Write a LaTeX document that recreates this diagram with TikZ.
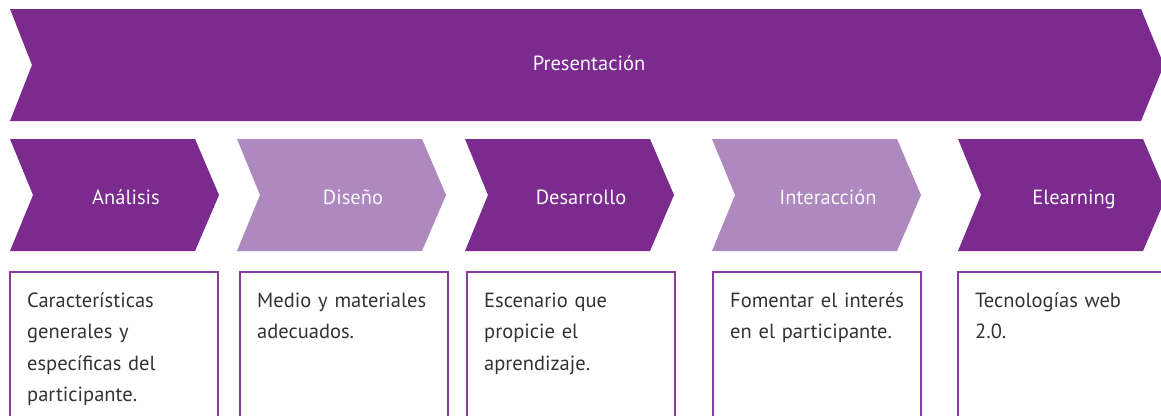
\documentclass[tikz,border=0pt]{standalone}
\usepackage{fontspec}
\setmainfont{PT Sans}
\definecolor{darkviolet}{HTML}{7B2A8E}
\definecolor{lightviolet}{HTML}{AD89BF}
\definecolor{boxviolet}{HTML}{8A3A9F}
\definecolor{textgray}{HTML}{333333}
\tikzset{
  steplabel/.style={anchor=base,inner sep=0pt,text=white!94!lightviolet,
    font=\fontsize{20.5}{20.5}\selectfont},
  notebox/.style={draw=boxviolet,line width=2pt},
  notetext/.style={anchor=base west,inner sep=0pt,text=textgray,align=left,
    text width=185pt,font=\fontsize{20.5}{31.5}\selectfont}
}
\begin{document}
\begin{tikzpicture}[x=1pt,y=-1pt]
  \useasboundingbox (0,0) rectangle (1161,415);
  \clip (0,0) rectangle (1161,415);
  % banner
  \fill[darkviolet] (10,9) -- (1141,9) -- (1164,65) -- (1141,121) -- (10,121) -- (32,65) -- cycle;
  \node[steplabel] (presentacion) at (589,70) {Presentación};
  % chevrons
  \foreach \x/\col/\name/\txt in {10/darkviolet/analisis/Análisis,
      237/lightviolet/diseno/Diseño, 465/darkviolet/desarrollo/Desarrollo,
      712/lightviolet/interaccion/Interacción, 958/darkviolet/elearning/Elearning}{
    \fill[\col] (\x,139) -- ++(185,0) -- ++(24,56) -- ++(-24,56) -- ++(-185,0) -- ++(23,-56) -- cycle;
    \node[steplabel] (\name) at (\x+116,204) {\txt};
  }
  % boxes
  \foreach \x/\name/\txt in {10/caracteristicas/{Características\\generales y\\específicas del\\participante.},
      240/medio/{Medio y materiales\\adecuados.},
      467/escenario/{Escenario que\\propicie el\\aprendizaje.},
      713/fomentar/{Fomentar el interés\\en el participante.},
      958/tecnologias/{Tecnologías web\\2.0.}}{
    \draw[notebox] (\x,272) rectangle ++(208,160);
    \node[notetext] (\name) at (\x+17,307) {\txt};
  }
\end{tikzpicture}
\end{document}
